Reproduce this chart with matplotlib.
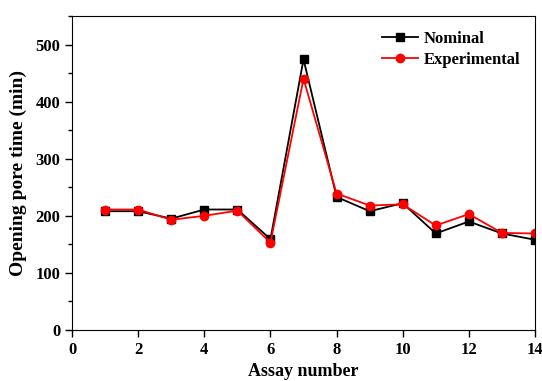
import matplotlib
matplotlib.use('Agg')
import matplotlib.pyplot as plt
from matplotlib.ticker import MultipleLocator

# Data
assay = [1, 2, 3, 4, 5, 6, 7, 8, 9, 10, 11, 12, 13, 14]
nominal = [208, 208, 195, 211, 211, 159, 474, 233, 208, 222, 169, 190, 169, 158]
experimental = [211, 211, 193, 200, 209, 153, 440, 239, 218, 220, 183, 203, 170, 169]

plt.rcParams['font.family'] = 'Liberation Serif'
plt.rcParams['font.weight'] = 'bold'

fig = plt.figure(figsize=(5.42, 3.81), dpi=100)
ax = fig.add_axes([0.133, 0.134, 0.854, 0.824])

ax.plot(assay, nominal, color='black', marker='s', markersize=5.5, linewidth=1.3, label='Nominal')
ax.plot(assay, experimental, color='red', marker='o', markersize=6, linewidth=1.3, label='Experimental')

ax.set_xlim(0, 14)
ax.set_ylim(0, 550)
ax.xaxis.set_major_locator(MultipleLocator(2))
ax.yaxis.set_major_locator(MultipleLocator(100))
ax.yaxis.set_minor_locator(MultipleLocator(50))
ax.tick_params(axis='both', which='major', direction='out', length=5, width=1, labelsize=12)
ax.tick_params(axis='y', which='minor', direction='out', length=3, width=1)
for lab in ax.get_xticklabels() + ax.get_yticklabels():
    lab.set_fontweight('bold')

ax.set_xlabel('Assay number', fontsize=13, fontweight='bold', labelpad=4)
ax.set_ylabel('Opening pore time (min)', fontsize=14, fontweight='bold', labelpad=6)

ax.legend(loc='upper right', frameon=False, handlelength=2.2,
          borderaxespad=0.5, labelspacing=0.3, handletextpad=0.3,
          prop={'weight': 'bold', 'size': 12})

fig.savefig('out.png', dpi=100)
